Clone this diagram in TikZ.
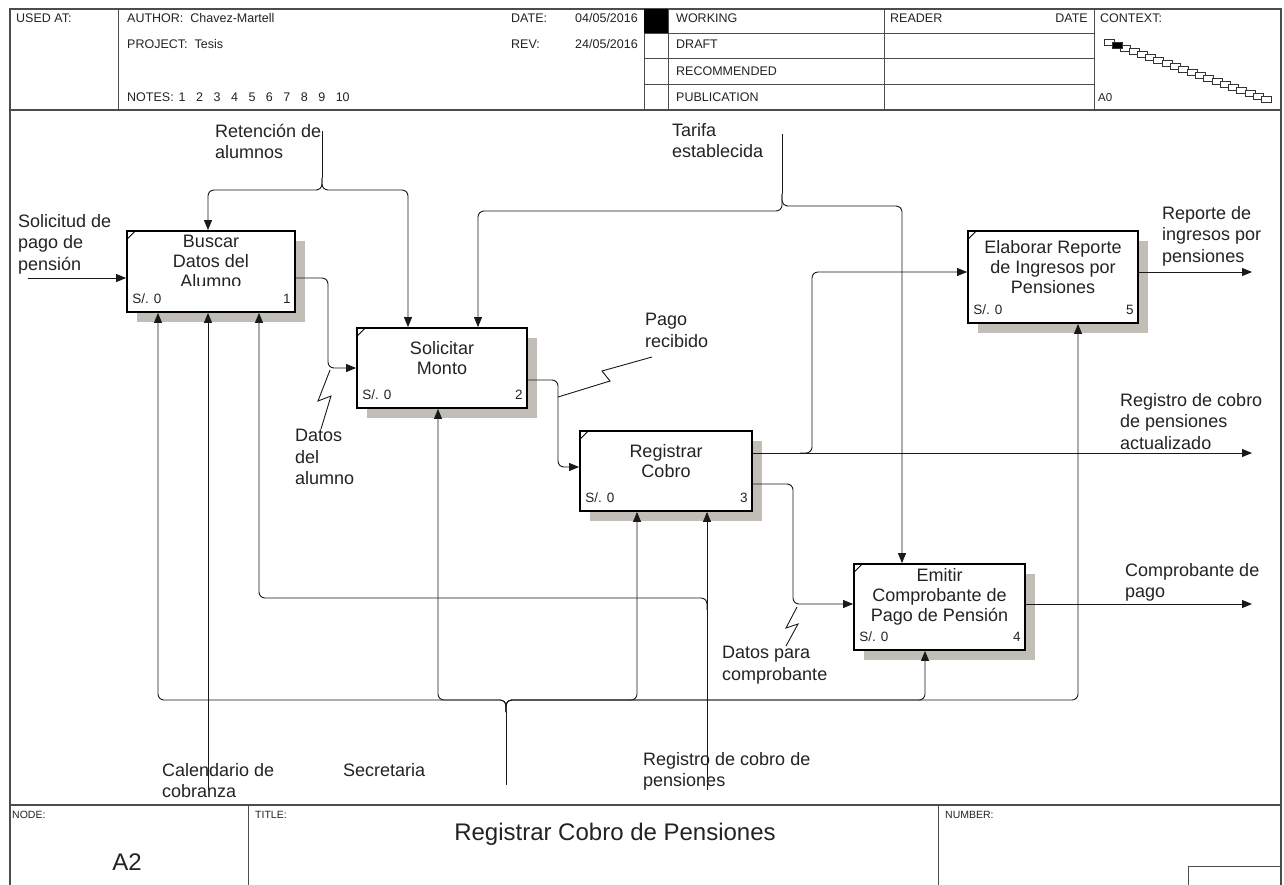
\documentclass[tikz,border=0pt]{standalone}
\usepackage{fontspec}
\setmainfont{Liberation Sans}
\usetikzlibrary{arrows.meta,shadows}
\definecolor{shade}{RGB}{192,190,182}
\definecolor{ink}{RGB}{35,35,35}

\begin{document}
\begin{tikzpicture}[x=1pt,y=-1pt,
  frame/.style={draw=black!70,line width=1.2pt},
  rule/.style={draw=black!70,line width=0.8pt},
  hdr/.style={inner sep=0,anchor=base west,font=\fontsize{12.5}{14}\selectfont,text=ink},
  ftr/.style={inner sep=0,anchor=north west,font=\fontsize{10.5}{12}\selectfont,text=ink},
  procbox/.style={draw=black,line width=1.8pt,fill=white,inner sep=0,
    drop shadow={shadow xshift=10pt,shadow yshift=-10pt,fill=shade,opacity=1}},
  boxtext/.style={inner sep=0,align=center,font=\fontsize{18}{20}\selectfont,text=ink},
  corner/.style={inner sep=0,font=\fontsize{13.5}{15}\selectfont,text=ink},
  lbl/.style={inner sep=0,anchor=north west,align=left,font=\fontsize{18}{21.5}\selectfont,text=ink},
  flow/.style={draw=black!90,line width=0.9pt,rounded corners=6pt},
  arr/.style={flow,-{Triangle[length=10pt,width=8pt]}},
  bolt/.style={draw=black!90,line width=0.9pt},
  tick/.style={draw=black,line width=0.9pt},
  ctxbox/.style={draw=black!80,line width=0.8pt},
]
\useasboundingbox (0,0) rectangle (1284,884);
\fill[white] (0,0) rectangle (1284,884);

% ---------- sheet frame and header ----------
\draw[frame] (10,890) -- (10,9) -- (1281,9) -- (1281,890);
\draw[frame] (10,110) -- (1281,110);
\draw[rule] (118,9) -- (118,110);
\draw[rule] (644,9) -- (644,110);
\draw[rule] (668,9) -- (668,110);
\draw[rule] (884,9) -- (884,110);
\draw[rule] (1094,9) -- (1094,110);
\draw[rule] (644,33) -- (1094,33);
\draw[rule] (644,58) -- (1094,58);
\draw[rule] (644,84) -- (1094,84);
\fill[black] (644,9) rectangle (668,33);

\node[hdr] (hUsed) at (16,22.5) {USED AT:};
\node[hdr] (hAuthor) at (127,22.5) {AUTHOR:\ \ Chavez-Martell};
\node[hdr] (hProject) at (127,48.5) {PROJECT:\ \ Tesis};
\node[hdr] (hNotes) at (127,101.5) {NOTES:\hspace{5pt}1\hspace{10.5pt}2\hspace{10.5pt}3\hspace{10.5pt}4\hspace{10.5pt}5\hspace{10.5pt}6\hspace{10.5pt}7\hspace{10.5pt}8\hspace{10.5pt}9\hspace{10.5pt}10};
\node[hdr] (hDate) at (511,22.5) {DATE:};
\node[hdr,anchor=base east] (hDateD) at (638,22.5) {04/05/2016};
\node[hdr] (hRev) at (511,48.5) {REV:};
\node[hdr,anchor=base east] (hRevD) at (638,48.5) {24/05/2016};
\node[hdr] (hWork) at (676,22.5) {WORKING};
\node[hdr] (hDraft) at (676,48.5) {DRAFT};
\node[hdr] (hRec) at (676,75.5) {RECOMMENDED};
\node[hdr] (hPub) at (676,101.5) {PUBLICATION};
\node[hdr] (hReader) at (890,22.5) {READER};
\node[hdr,anchor=base east] (hRDate) at (1088,22.5) {DATE};
\node[hdr] (hCtx) at (1100,22.5) {CONTEXT:};
\node[hdr,font=\fontsize{11.5}{12}\selectfont] (hA0) at (1098,101.5) {A0};

% context staircase
\foreach \i in {0,...,19} {
  \draw[ctxbox,fill=white] ({1104+8.3*\i},{39+3*\i}) rectangle ++(10,6);
}
\draw[ctxbox,fill=black] (1112.3,42) rectangle ++(10,6);

% ---------- footer ----------
\draw[frame] (10,805) -- (1281,805);
\draw[rule] (248,805) -- (248,890);
\draw[rule] (938,805) -- (938,890);
\draw[rule] (1188,890) -- (1188,866) -- (1281,866);
\node[ftr] (fNode) at (12,811) {NODE:};
\node[ftr] (fTitle) at (255,811) {TITLE:};
\node[ftr] (fNumber) at (945,811) {NUMBER:};
\node[inner sep=0,font=\fontsize{24}{26}\selectfont,text=ink] (fA2) at (127,862) {A2};
\node[inner sep=0,font=\fontsize{24}{26}\selectfont,text=ink] (fName) at (615,834) {Registrar Cobro de Pensiones};

% ---------- activity boxes ----------
\node[procbox,minimum width=168pt,minimum height=81pt] (b1) at (211,271.5) {};
\node[procbox,minimum width=170pt,minimum height=80pt] (b2) at (442,368) {};
\node[procbox,minimum width=172pt,minimum height=80pt] (b3) at (666,471) {};
\node[procbox,minimum width=171pt,minimum height=86pt] (b4) at (939.5,607) {};
\node[procbox,minimum width=170pt,minimum height=92pt] (b5) at (1053,277) {};

\foreach \b in {b1,b2,b3,b4,b5} {
  \draw[tick] ([yshift=-10pt]\b.north west) -- ([xshift=10pt]\b.north west);
}

\begin{scope}
  \clip (127,231) rectangle (295,285);
  \node[boxtext] (t1) at ([yshift=10pt]b1.center) {Buscar\\Datos del\\Alumno};
\end{scope}
\node[boxtext] (t2) at ([yshift=10pt]b2.center) {Solicitar\\Monto};
\node[boxtext] (t3) at ([yshift=10pt]b3.center) {Registrar\\Cobro};
\node[boxtext] (t4) at ([yshift=10pt]b4.center) {Emitir\\Comprobante de\\Pago de Pensión};
\node[boxtext] (t5) at ([yshift=10pt]b5.center) {Elaborar Reporte\\de Ingresos por\\Pensiones};

\foreach \b/\n in {b1/1,b2/2,b3/3,b4/4,b5/5} {
  \node[corner,anchor=base west] (\b cost) at ([shift={(6pt,9pt)}]\b.south west) {S/. 0};
  \node[corner,anchor=base east] (\b num) at ([shift={(-5pt,9pt)}]\b.south east) {\n};
}

% ---------- inputs ----------
\coordinate (solIn) at (28,278);
\draw[arr] (solIn) -- (b1.west |- solIn);

% ---------- controls ----------
\coordinate (retTop) at (322,131);
\coordinate (retK) at (322,178);
\coordinate (retJ) at (322,190);
\coordinate (k1) at (208,190);
\coordinate (k2) at (408,190);
\draw[flow] (retTop) -- (retK);
\draw[arr] (retK) -- (retJ) -- (k1) -- (k1 |- b1.north);
\draw[arr] (retK) -- (retJ) -- (k2) -- (k2 |- b2.north);

\coordinate (tarTop) at (782,134);
\coordinate (tarK) at (782,194);
\coordinate (tarL) at (478,211);
\coordinate (tarR) at (902,206);
\draw[flow] (tarTop) -- (tarK);
\draw[arr] (tarK) -- (tarK |- tarL) -- (tarL) -- (tarL |- b2.north);
\draw[arr] (tarK) -- (tarK |- tarR) -- (tarR) -- (tarR |- b4.north);

% ---------- box to box flows ----------
\coordinate (o1) at (328,278);
\coordinate (i2) at (328,368);
\draw[arr] (b1.east |- o1) -- (o1) -- (i2) -- (b2.west |- i2);
\draw[bolt] (330,370) -- (318,401) -- (331,396) -- (321,429);

\coordinate (o2) at (558,380);
\coordinate (i3) at (558,467);
\draw[arr] (b2.east |- o2) -- (o2) -- (i3) -- (b3.west |- i3);
\draw[bolt] (558,397) -- (610,381) -- (602,371) -- (652,357);

\coordinate (o3a) at (812,453);
\coordinate (o3k) at (800,453);
\coordinate (regOut) at (1252,453);
\coordinate (i5) at (812,272);
\draw[arr] (b3.east |- o3a) -- (regOut);
\draw[arr] (o3k) -- (o3a) -- (i5) -- (b5.west |- i5);

\coordinate (o3b) at (793,484);
\coordinate (i4) at (793,604);
\draw[arr] (b3.east |- o3b) -- (o3b) -- (i4) -- (b4.west |- i4);
\draw[bolt] (797,607) -- (786,628) -- (798,624) -- (786,646);

% ---------- outputs ----------
\coordinate (compOut) at (1252,604);
\draw[arr] (b4.east |- compOut) -- (compOut);
\coordinate (repOut) at (1252,272);
\draw[arr] (b5.east |- repOut) -- (repOut);

% ---------- mechanisms ----------
\coordinate (secBot) at (506,785);
\coordinate (secK) at (506,712);
\coordinate (secJ) at (506,700);
\coordinate (m1) at (158,700);
\coordinate (m2) at (438,700);
\coordinate (m3) at (637,700);
\coordinate (m4) at (925,700);
\coordinate (m5) at (1078,700);
\draw[flow] (secBot) -- (secK);
\draw[arr] (secK) -- (secJ) -- (m1) -- (m1 |- b1.south);
\draw[arr] (secK) -- (secJ) -- (m2) -- (m2 |- b2.south);
\draw[arr] (secK) -- (secJ) -- (m3) -- (m3 |- b3.south);
\draw[arr] (secK) -- (secJ) -- (m4) -- (m4 |- b4.south);
\draw[arr] (secK) -- (secJ) -- (m5) -- (m5 |- b5.south);

\coordinate (calBot) at (208,790);
\draw[arr] (calBot) -- (calBot |- b1.south);

\coordinate (rcBot) at (707,790);
\coordinate (rcK) at (707,610);
\coordinate (rcJ) at (707,598);
\coordinate (m1c) at (259,598);
\draw[arr] (rcBot) -- (rcBot |- b3.south);
\draw[arr] (rcK) -- (rcJ) -- (m1c) -- (m1c |- b1.south);

% ---------- arrow labels ----------
\node[lbl] (lSol) at (18,214) {Solicitud de\\pago de\\pensión};
\node[lbl] (lRet) at (215,124) {Retención de\\alumnos};
\node[lbl] (lTar) at (672,123) {Tarifa\\establecida};
\node[lbl] (lDal) at (295,429) {Datos\\del\\alumno};
\node[lbl] (lPago) at (645,313) {Pago\\recibido};
\node[lbl] (lRep) at (1162,206) {Reporte de\\ingresos por\\pensiones};
\node[lbl] (lRca) at (1120,393) {Registro de cobro\\de pensiones\\actualizado};
\node[lbl] (lComp) at (1125,563) {Comprobante de\\pago};
\node[lbl] (lDpc) at (722,646) {Datos para\\comprobante};
\node[lbl] (lCal) at (162,763) {Calendario de\\cobranza};
\node[lbl] (lSec) at (343,763) {Secretaria};
\node[lbl] (lRcp) at (643,752) {Registro de cobro de\\pensiones};
\end{tikzpicture}
\end{document}
